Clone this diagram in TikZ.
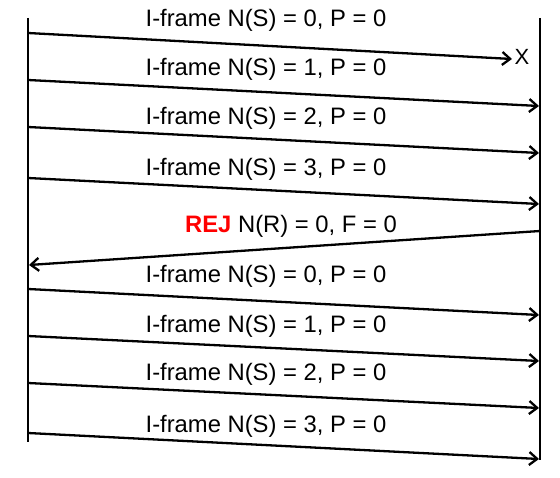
\documentclass[tikz,border=0pt]{standalone}
\usepackage{fontspec}
\setmainfont{Liberation Sans}
\usetikzlibrary{arrows.meta}
\begin{document}
\begin{tikzpicture}[x=1pt,y=-1pt,
  life/.style={line width=2.6pt},
  msg/.style={line width=2.3pt,-{Straight Barb[length=8pt,width=13pt,line width=2.3pt]}},
  lbl/.style={anchor=base,inner sep=0pt,font=\fontsize{23.8}{28}\selectfont},
  lost/.style={anchor=center,inner sep=0pt,font=\fontsize{22}{26}\selectfont}]
\useasboundingbox (0,0) rectangle (560,478);
% lifelines
\coordinate (Ltop) at (28,18);
\coordinate (Lbot) at (28,442);
\coordinate (Rtop) at (540,18);
\coordinate (Rbot) at (540,460);
\draw[life] (Ltop) -- (Lbot);
\draw[life] (Rtop) -- (Rbot);
% message end points
\coordinate (s1) at (28,33);  \coordinate (e1) at (512,59);
\coordinate (s2) at (28,80);  \coordinate (e2) at (539,106);
\coordinate (s3) at (28,127); \coordinate (e3) at (539,153);
\coordinate (s4) at (28,178); \coordinate (e4) at (539,204);
\coordinate (s5) at (540,231); \coordinate (e5) at (29,265);
\coordinate (s6) at (28,289); \coordinate (e6) at (539,315);
\coordinate (s7) at (28,336); \coordinate (e7) at (539,361);
\coordinate (s8) at (28,383); \coordinate (e8) at (539,408);
\coordinate (s9) at (28,433); \coordinate (e9) at (539,459);
\foreach \i in {1,...,9} {\draw[msg] (s\i) -- (e\i);}
% lost marker
\node[lost] (x) at (522,57) {X};
% labels
\node[lbl] (l1) at (266,27)  {I-frame N(S) = 0, P = 0};
\node[lbl] (l2) at (266,76)  {I-frame N(S) = 1, P = 0};
\node[lbl] (l3) at (266,125) {I-frame N(S) = 2, P = 0};
\node[lbl] (l4) at (266,176) {I-frame N(S) = 3, P = 0};
\node[lbl] (l5) at (291,233) {\textcolor{red}{\textbf{REJ}} N(R) = 0, F = 0};
\node[lbl] (l6) at (266,283) {I-frame N(S) = 0, P = 0};
\node[lbl] (l7) at (266,333) {I-frame N(S) = 1, P = 0};
\node[lbl] (l8) at (266,381) {I-frame N(S) = 2, P = 0};
\node[lbl] (l9) at (266,432) {I-frame N(S) = 3, P = 0};
\end{tikzpicture}
\end{document}
